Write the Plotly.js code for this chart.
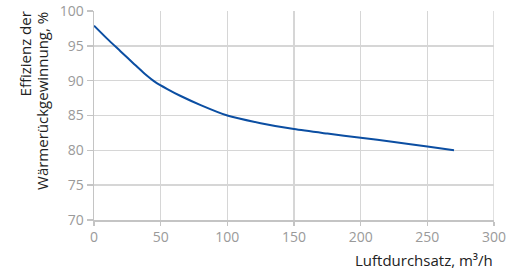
<!DOCTYPE html>
<html><head><meta charset="utf-8">
<script src="https://cdn.plot.ly/plotly-3.0.1.min.js"></script>
<style>html,body{margin:0;padding:0;background:#fff}#c{width:524px;height:271px}</style>
</head><body><div id="c"></div>
<script>
var airflow = [0, 10, 20, 30, 38, 46, 55, 65, 80, 100, 125, 150, 175, 200, 225, 250, 270];
var efficiency = [97.9, 96.0, 94.2, 92.4, 91.0, 89.8, 88.8, 87.8, 86.5, 85, 83.9, 83.05, 82.4, 81.8, 81.2, 80.55, 80.0];
var xTicks = [0, 50, 100, 150, 200, 250, 300];
var yTicks = [70, 75, 80, 85, 90, 95, 100];
var yTitleLines = ["Effizienz der", "Wärmerückgewinnung, %"];
var xTitle = "Luftdurchsatz, m³/h";

var trace = {x: airflow, y: efficiency, type: 'scatter', mode: 'lines',
  line: {color: '#0b4ea2', width: 2, shape: 'spline', smoothing: 0.7}, hoverinfo: 'skip'};
var axBase = {showline: true, linecolor: '#c4c4c4', linewidth: 1.5, gridcolor: '#d6d6d6', gridwidth: 1.5,
  ticks: 'outside', tickcolor: '#c4c4c4', tickwidth: 1.5, zeroline: false,
  tickfont: {family: 'Open Sans, sans-serif', size: 14, color: '#9a9a9a'}};
var titleFont = {family: 'Open Sans, sans-serif', size: 15, color: '#222'};
var layout = {
  width: 524, height: 271, margin: {l: 94, r: 30, t: 11, b: 51},
  paper_bgcolor: '#fff', plot_bgcolor: '#fff', showlegend: false,
  xaxis: Object.assign({}, axBase, {range: [0, 300], tickvals: xTicks, ticklen: 4}),
  yaxis: Object.assign({}, axBase, {range: [70, 100], tickvals: yTicks, ticklen: 6}),
  shapes: [{type: 'line', xref: 'x', yref: 'paper', x0: 300, x1: 300, y0: 0, y1: 1, line: {color: '#d6d6d6', width: 1.5}}],
  annotations: [
    {text: yTitleLines[0], xref: 'paper', yref: 'paper', x: -0.1725, y: 1.005, xanchor: 'center', yanchor: 'top',
     textangle: -90, showarrow: false, font: titleFont},
    {text: yTitleLines[1], xref: 'paper', yref: 'paper', x: -0.13, y: 1.005, xanchor: 'center', yanchor: 'top',
     textangle: -90, showarrow: false, font: titleFont},
    {text: xTitle, xref: 'paper', yref: 'paper', x: 1.002, y: -0.135, xanchor: 'right', yanchor: 'top',
     showarrow: false, font: titleFont}
  ]
};
Plotly.newPlot('c', [trace], layout, {displayModeBar: false, staticPlot: true});
</script></body></html>
